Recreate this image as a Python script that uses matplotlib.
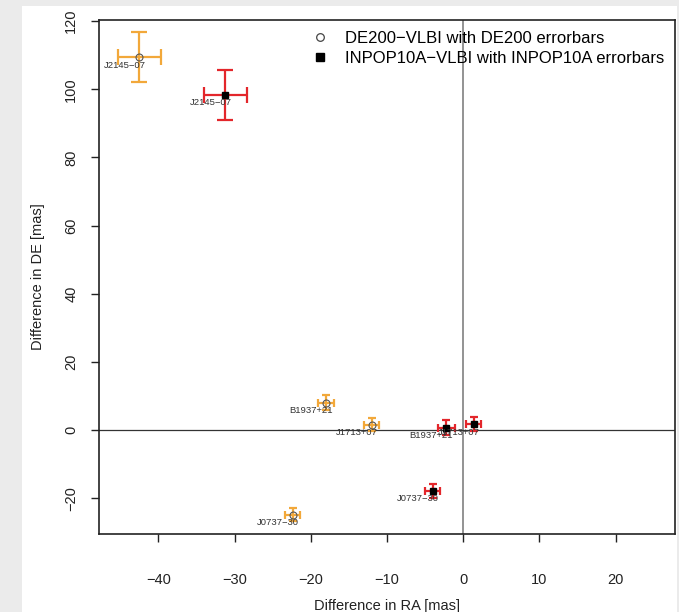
import matplotlib
matplotlib.use("Agg")
import matplotlib.pyplot as plt
from matplotlib.lines import Line2D
from matplotlib.patches import Rectangle

plt.rcParams['font.family'] = ['Liberation Sans', 'DejaVu Sans']

# ---- data ----
names = ["J2145\u221207", "B1937+21", "J1713+07", "J0737\u221230"]
de200_ra = [-42.5, -18.0, -12.0, -22.4]
de200_de = [109.4, 8.0, 1.6, -24.8]
de200_ra_err = [2.8, 1.1, 1.0, 1.0]
de200_de_err = [7.3, 2.2, 2.0, 2.0]

inpop_ra = [-31.2, -2.2, 1.4, -4.0]
inpop_de = [98.3, 0.7, 1.7, -17.8]
inpop_ra_err = [2.8, 1.1, 1.0, 1.0]
inpop_de_err = [7.3, 2.2, 2.0, 2.0]

xticks = [-40, -30, -20, -10, 0, 10, 20]
yticks = [-20, 0, 20, 40, 60, 80, 100, 120]

orange = '#f2a83a'
red = '#e3262b'

fig = plt.figure(figsize=(6.79, 6.12), dpi=100)
fig.patch.set_facecolor('#ebebeb')
fig.patches.append(Rectangle((22/679, 0), (677-22)/679, (612-6)/612,
                             transform=fig.transFigure, facecolor='white',
                             edgecolor='none', zorder=-1))

ax = fig.add_axes([99/679, 1-534/612, (675-99)/679, (534-20)/612])
ax.set_facecolor('white')

ax.axvline(0, color='#8a8a8a', lw=1.3, zorder=1)
ax.axhline(0, color='#333333', lw=0.9, zorder=1)


def draw(xs, ys, xe, ye, color):
    for x, y, ex, ey in zip(xs, ys, xe, ye):
        cap = 5.5 if ey > 4 else 2.6
        ax.errorbar([x], [y], xerr=[ex], yerr=[ey], fmt='none', ecolor=color,
                    elinewidth=1.6, capsize=cap, capthick=1.6, zorder=2)


draw(de200_ra, de200_de, de200_ra_err, de200_de_err, orange)
ax.plot(de200_ra, de200_de, 'o', mfc='none', mec='#555555', ms=5, mew=0.8,
        zorder=3)
draw(inpop_ra, inpop_de, inpop_ra_err, inpop_de_err, red)
ax.plot(inpop_ra, inpop_de, 's', color='black', ms=4.2, zorder=3)

for n, x, y in zip(names, de200_ra, de200_de):
    ax.annotate(n, (x, y), xytext=(4.5, -2.5), textcoords='offset points',
                ha='right', va='top', fontsize=6.8, color='#333333', zorder=4)
for n, x, y in zip(names, inpop_ra, inpop_de):
    ax.annotate(n, (x, y), xytext=(4.5, -2.5), textcoords='offset points',
                ha='right', va='top', fontsize=6.8, color='#333333', zorder=4)

ax.set_xlim(-47.8, 27.8)
ax.set_ylim(-30.5, 120.3)
ax.set_xticks(xticks)
ax.set_yticks(yticks)
ax.set_xticklabels([f"\u2212{abs(t)}" if t < 0 else str(t) for t in xticks])
ax.set_yticklabels([f"\u2212{abs(t)}" if t < 0 else str(t) for t in yticks],
                   rotation=90, va='center')
ax.tick_params(axis='x', direction='out', length=6, width=1, pad=22,
               labelsize=10.5, colors='#222222')
ax.tick_params(axis='y', direction='out', length=6, width=1, pad=9,
               labelsize=10.5, colors='#222222')
for s in ax.spines.values():
    s.set_linewidth(1.2)
    s.set_color('#222222')

ax.set_xlabel("Difference in RA [mas]", fontsize=10.5, color='#222222',
              labelpad=9)
ax.set_ylabel("Difference in DE [mas]", fontsize=10.5, color='#222222',
              labelpad=14)

handles = [Line2D([], [], ls='none', marker='o', mfc='none', mec='#444444',
                  ms=5.5, mew=0.9),
           Line2D([], [], ls='none', marker='s', color='black', ms=5.5)]
ax.legend(handles, ["DE200\u2212VLBI with DE200 errorbars",
                    "INPOP10A\u2212VLBI with INPOP10A errorbars"],
          loc='upper right', frameon=False, fontsize=12,
          handlelength=1.0, handletextpad=1.0, labelspacing=0.3,
          borderaxespad=0.25, bbox_to_anchor=(1.0, 1.0))

fig.savefig("out.png", dpi=100, facecolor=fig.get_facecolor())
